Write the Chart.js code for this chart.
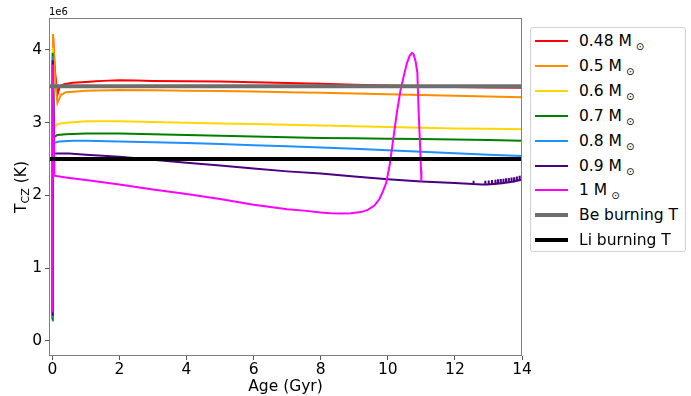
<!DOCTYPE html>
<html>
<head>
<meta charset="utf-8">
<script src="https://cdn.jsdelivr.net/npm/chart.js@4/dist/chart.umd.min.js"></script>
<style>
  html, body { margin: 0; padding: 0; background: #fff; }
  #wrap { position: relative; width: 691px; height: 396px; font-family: "DejaVu Sans", sans-serif; }
  #legend { position: absolute; left: 530px; top: 27px; width: 156px; height: 225px;
            border: 1px solid #d0d0d0; border-radius: 3px; box-sizing: border-box; background: #fff; }
  .row { position: absolute; left: 0; height: 24px; width: 100%; font-size: 15.5px; color: #000; }
  .swatch { position: absolute; left: 4px; width: 33px; }
  .lbl { position: absolute; left: 48px; white-space: nowrap; line-height: 24px; top: 0; }
  .sun { font-size: 10px; position: relative; top: 4px; margin-left: 4px; }
</style>
</head>
<body>
<div id="wrap">
  <canvas id="c" width="691" height="396"></canvas>
  <div id="legend"></div>
</div>
<script>
// ---- Data (temperature in units of 1e6 K, age in Gyr) ----
const massLabels = ['0.48', '0.5', '0.6', '0.7', '0.8', '0.9', '1'];

const age048 = [0, 0.02, 0.08, 0.15, 0.22, 0.35, 0.6, 1.0, 1.3, 1.5, 2.0, 2.5, 3.0, 4.0, 5.0, 6.0, 7.0, 8.0, 9.0, 10.0, 11.0, 12.0, 13.0, 14.0];
const tcz048 = [0.3, 4.18, 3.7, 3.38, 3.5, 3.53, 3.55, 3.56, 3.57, 3.575, 3.585, 3.58, 3.575, 3.57, 3.565, 3.555, 3.545, 3.535, 3.52, 3.51, 3.50, 3.49, 3.485, 3.48];

const age05 = [0, 0.02, 0.08, 0.15, 0.25, 0.4, 0.7, 1, 2, 3, 4, 5, 6, 7, 8, 9, 10, 11, 12, 13, 14];
const tcz05 = [0.3, 4.22, 3.6, 3.27, 3.38, 3.42, 3.43, 3.44, 3.45, 3.445, 3.44, 3.435, 3.43, 3.42, 3.41, 3.40, 3.39, 3.38, 3.37, 3.36, 3.35];

const age06 = [0, 0.01, 0.06, 0.15, 0.4, 1, 2, 3, 4, 5, 6, 7, 8, 9, 10, 11, 12, 13, 14];
const tcz06 = [0.3, 4.03, 2.93, 2.98, 3.00, 3.02, 3.02, 3.01, 3.00, 2.99, 2.98, 2.97, 2.96, 2.95, 2.94, 2.93, 2.92, 2.915, 2.91];

const age07 = [0, 0.01, 0.05, 0.15, 0.4, 1, 2, 3, 4, 5, 6, 7, 8, 9, 10, 11, 12, 13, 14];
const tcz07 = [0.28, 3.96, 2.80, 2.83, 2.84, 2.85, 2.85, 2.84, 2.83, 2.82, 2.81, 2.80, 2.79, 2.785, 2.78, 2.775, 2.77, 2.76, 2.75];

const age08 = [0, 0.01, 0.05, 0.2, 0.6, 1, 2, 3, 4, 5, 6, 7, 8, 9, 10, 11, 12, 13, 14];
const tcz08 = [0.33, 3.91, 2.72, 2.74, 2.75, 2.75, 2.74, 2.73, 2.72, 2.705, 2.69, 2.675, 2.66, 2.64, 2.62, 2.60, 2.58, 2.56, 2.54];

const age09 = [0, 0.01, 0.05, 0.5, 1, 2, 3, 4, 5, 6, 7, 8, 9, 10, 11, 11.5, 12, 12.4,
  12.55, 12.555, 12.56, 12.8, 12.9, 12.905, 12.91, 13.0, 13.005, 13.01, 13.1, 13.105, 13.11,
  13.2, 13.205, 13.21, 13.28, 13.285, 13.29, 13.36, 13.365, 13.37, 13.44, 13.445, 13.45,
  13.52, 13.525, 13.53, 13.6, 13.605, 13.61, 13.68, 13.685, 13.69, 13.76, 13.765, 13.77,
  13.84, 13.845, 13.85, 13.92, 13.925, 13.93, 13.99, 13.995, 14];
const tcz09 = [0.35, 3.86, 2.58, 2.575, 2.56, 2.53, 2.49, 2.45, 2.41, 2.37, 2.33, 2.30, 2.26, 2.22, 2.19, 2.18, 2.17, 2.16,
  2.155, 2.2, 2.155, 2.15, 2.15, 2.2, 2.15, 2.152, 2.205, 2.152, 2.155, 2.21, 2.155,
  2.158, 2.215, 2.158, 2.162, 2.22, 2.162, 2.166, 2.225, 2.166, 2.17, 2.23, 2.17,
  2.175, 2.235, 2.175, 2.18, 2.24, 2.18, 2.186, 2.245, 2.186, 2.192, 2.25, 2.192,
  2.2, 2.26, 2.2, 2.208, 2.27, 2.208, 2.216, 2.275, 2.218];

const age1 = [0, 0.01, 0.06, 0.5, 1, 2, 3, 4, 5, 6, 7, 7.5, 8, 8.3, 8.6, 8.9, 9.2,
  9.4, 9.6, 9.75, 9.85, 9.95, 10.05, 10.17, 10.27, 10.38, 10.47, 10.57, 10.65, 10.72, 10.77, 10.83, 10.88,
  10.92, 10.96, 10.99, 11.0];
const tcz1 = [0.4, 3.8, 2.27, 2.24, 2.21, 2.15, 2.08, 2.02, 1.95, 1.87, 1.81, 1.79, 1.765, 1.755, 1.75, 1.755, 1.77,
  1.80, 1.86, 1.95, 2.05, 2.17, 2.40, 2.80, 3.14, 3.45, 3.63, 3.82, 3.92, 3.96, 3.94, 3.84, 3.69,
  3.14, 2.7, 2.35, 2.19];

const beBurningT = 3.5;
const liBurningT = 2.5;

const xTicks = [0, 2, 4, 6, 8, 10, 12, 14];
const yTicks = [0, 1, 2, 3, 4];

// ---- Styles ----
const massColors = ['#ff0000', '#ff8c00', '#ffd700', '#008000', '#1e90ff', '#4b0082', '#ff00ff'];
const X_MIN = -0.1, X_MAX = 14, Y_MIN = -0.21, Y_MAX = 4.44;

const ageSets = [age048, age05, age06, age07, age08, age09, age1];
const tczSets = [tcz048, tcz05, tcz06, tcz07, tcz08, tcz09, tcz1];

const toPts = (xs, ys) => xs.map((x, i) => ({ x: x, y: ys[i] }));

const datasets = massLabels.map((m, i) => ({
  label: m + ' M\u2299',
  legendMass: m,
  data: toPts(ageSets[i], tczSets[i]),
  borderColor: massColors[i],
  backgroundColor: massColors[i],
  borderWidth: 2,
  pointRadius: 0,
  tension: 0,
  fill: false,
  order: 20 - i
}));
datasets.push({
  label: 'Be burning T',
  data: toPts([X_MIN, X_MAX], [beBurningT, beBurningT]),
  borderColor: '#6e6e6e', backgroundColor: '#6e6e6e',
  borderWidth: 4, pointRadius: 0, fill: false, order: 2
});
datasets.push({
  label: 'Li burning T',
  data: toPts([X_MIN, X_MAX], [liBurningT, liBurningT]),
  borderColor: '#000000', backgroundColor: '#000000',
  borderWidth: 4, pointRadius: 0, fill: false, order: 1
});

const FONT = '"DejaVu Sans", sans-serif';

const decorPlugin = {
  id: 'decor',
  afterDatasetsDraw(chart) {
    const { ctx, chartArea: a } = chart;
    ctx.save();
    ctx.strokeStyle = '#808080';
    ctx.lineWidth = 1;
    ctx.strokeRect(Math.round(a.left) + 0.5, Math.round(a.top) + 0.5,
                   Math.round(a.right - a.left) - 1, Math.round(a.bottom - a.top) - 1);
    ctx.restore();
  },
  afterDraw(chart) {
    const { ctx, chartArea: a } = chart;
    ctx.save();
    ctx.fillStyle = '#000';
    // offset text
    ctx.font = '10px ' + FONT;
    ctx.textAlign = 'left';
    ctx.textBaseline = 'alphabetic';
    ctx.fillText('1e6', a.left, a.top - 3);
    // x title
    ctx.font = '15.5px ' + FONT;
    ctx.textAlign = 'center';
    ctx.textBaseline = 'middle';
    ctx.fillText('Age (Gyr)', (a.left + a.right) / 2, 387);
    // y title with subscript
    ctx.translate(20, (a.top + a.bottom) / 2);
    ctx.rotate(-Math.PI / 2);
    ctx.textAlign = 'left';
    ctx.textBaseline = 'alphabetic';
    const big = '15.5px ' + FONT, small = '11px ' + FONT;
    ctx.font = big; const wT = ctx.measureText('T').width; const wK = ctx.measureText(' (K)').width;
    ctx.font = small; const wCZ = ctx.measureText('CZ').width;
    let x0 = -(wT + wCZ + wK) / 2;
    ctx.font = big; ctx.fillText('T', x0, 5.5);
    ctx.font = small; ctx.fillText('CZ', x0 + wT, 9);
    ctx.font = big; ctx.fillText(' (K)', x0 + wT + wCZ, 5.5);
    ctx.restore();
  }
};

const chart = new Chart(document.getElementById('c'), {
  type: 'line',
  data: { datasets: datasets },
  options: {
    responsive: false,
    animation: false,
    events: [],
    layout: { padding: { top: 18, right: 169, left: 0, bottom: 0 } },
    plugins: { legend: { display: false }, tooltip: { enabled: false } },
    scales: {
      x: {
        type: 'linear', min: X_MIN, max: X_MAX,
        afterBuildTicks: (s) => { s.ticks = xTicks.map(v => ({ value: v })); },
        afterFit: (s) => { s.height = 40; },
        grid: { drawOnChartArea: false, drawTicks: true, tickLength: 4, color: '#555' },
        border: { display: false },
        ticks: { font: { family: FONT, size: 15.5 }, color: '#000', padding: 1, maxRotation: 0, autoSkip: false }
      },
      y: {
        type: 'linear', min: Y_MIN, max: Y_MAX,
        afterBuildTicks: (s) => { s.ticks = yTicks.map(v => ({ value: v })); },
        afterFit: (s) => { s.width = 49; },
        grid: { drawOnChartArea: false, drawTicks: true, tickLength: 4, color: '#555' },
        border: { display: false },
        ticks: { font: { family: FONT, size: 15.5 }, color: '#000', padding: 3, autoSkip: false,
                 callback: (v) => String(v) }
      }
    }
  },
  plugins: [decorPlugin]
});

// ---- HTML legend built from the chart's datasets ----
const legend = document.getElementById('legend');
chart.data.datasets.forEach((ds, i) => {
  const row = document.createElement('div');
  row.className = 'row';
  row.style.top = (1 + i * 24.9) + 'px';
  const sw = document.createElement('div');
  sw.className = 'swatch';
  sw.style.height = ds.borderWidth + 'px';
  sw.style.top = (12 - ds.borderWidth / 2) + 'px';
  sw.style.background = ds.borderColor;
  row.appendChild(sw);
  const lb = document.createElement('div');
  lb.className = 'lbl';
  if (ds.legendMass) {
    lb.appendChild(document.createTextNode(ds.legendMass + ' M'));
    const s = document.createElement('span');
    s.className = 'sun';
    s.textContent = '\u2299';
    lb.appendChild(s);
  } else {
    lb.textContent = ds.label;
  }
  row.appendChild(lb);
  legend.appendChild(row);
});
</script>
</body>
</html>
